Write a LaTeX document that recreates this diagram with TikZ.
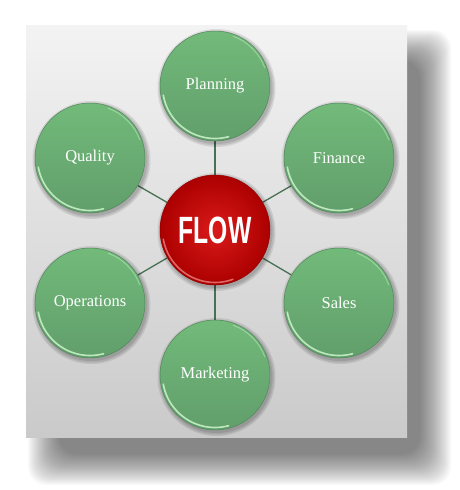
\documentclass[tikz,border=0pt]{standalone}
\usepackage{fontspec}
\setmainfont{Liberation Serif}
\newfontfamily\flowfont{Liberation Sans}
\definecolor{panelTop}{RGB}{243,243,243}
\definecolor{panelBot}{RGB}{202,202,202}
\definecolor{greenTop}{RGB}{114,186,122}
\definecolor{greenBot}{RGB}{97,158,107}
\definecolor{linkCol}{RGB}{72,112,84}
\definecolor{redIn}{RGB}{218,26,26}
\definecolor{redOut}{RGB}{172,0,0}
\definecolor{rimGreen}{RGB}{205,245,205}
\definecolor{rimRed}{RGB}{255,170,170}
\pgfdeclarelayer{back}
\pgfdeclarelayer{mid}
\pgfsetlayers{back,mid,main}
\begin{document}
\begin{tikzpicture}[x=1pt,y=-1pt,
  panel/.style={rectangle, minimum width=381pt, minimum height=412pt, inner sep=0pt,
    top color=panelTop, bottom color=panelBot},
  topic/.style={circle, minimum size=110pt, inner sep=0pt, top color=greenTop, bottom color=greenBot,
    draw=greenBot!85!black, line width=0.5pt, text=white, font=\fontsize{16.5}{18}\selectfont},
  hub/.style={circle, minimum size=110pt, inner sep=0pt, inner color=redIn, outer color=redOut,
    draw=redOut!85!black, line width=0.5pt, text=white},
  link/.style={draw=linkCol, line width=1.3pt},
  rim/.style={line width=1.6pt, line cap=round, opacity=0.85}]
\useasboundingbox (0,0) rectangle (459,490);
\begin{pgfonlayer}{back}
  % soft drop shadow of the panel
  \foreach \i in {0,...,31}
    \fill[black, opacity=0.02, rounded corners=18pt]
      (28+\i,30+\i) rectangle (451-\i,485-\i);
  \node[panel] (bg) at (216.5,231) {};
\end{pgfonlayer}
\node[hub] (flow) at (215,230) {{\flowfont\bfseries\fontsize{38}{40}\selectfont\scalebox{0.65}[1]{FLOW}}};
\node[topic] (plan) at (215,86) {Planning};
\node[topic] (fin) at (339,158) {Finance};
\node[topic] (sal) at (339,303) {Sales};
\node[topic] (mkt) at (215,375) {Marketing};
\node[topic] (ops) at (90,303) {Operations};
\node[topic] (qua) at (90,158) {Quality};
\begin{pgfonlayer}{mid}
  \foreach \t in {plan,fin,sal,mkt,ops,qua} \draw[link] (flow) -- (\t);
  \foreach \t in {flow,plan,fin,sal,mkt,ops,qua}{
    \foreach \r in {56,57.5,59}
      \fill[black, opacity=0.09] ([shift={(1.5,2)}]\t.center) circle[radius=\r];
  }
\end{pgfonlayer}
\foreach \t in {plan,fin,sal,mkt,ops,qua}{
  \begin{scope}[shift={(\t.center)}, y=1pt]
    \draw[rim, rimGreen] (190:52.5) arc[start angle=190, end angle=285, radius=52.5];
    \draw[rim, rimGreen, opacity=0.45, line width=1pt] (20:53) arc[start angle=20, end angle=70, radius=53];
  \end{scope}
}
\begin{scope}[shift={(flow.center)}, y=1pt]
  \draw[rim, rimRed, opacity=0.6] (190:52.5) arc[start angle=190, end angle=290, radius=52.5];
\end{scope}
\end{tikzpicture}
\end{document}
